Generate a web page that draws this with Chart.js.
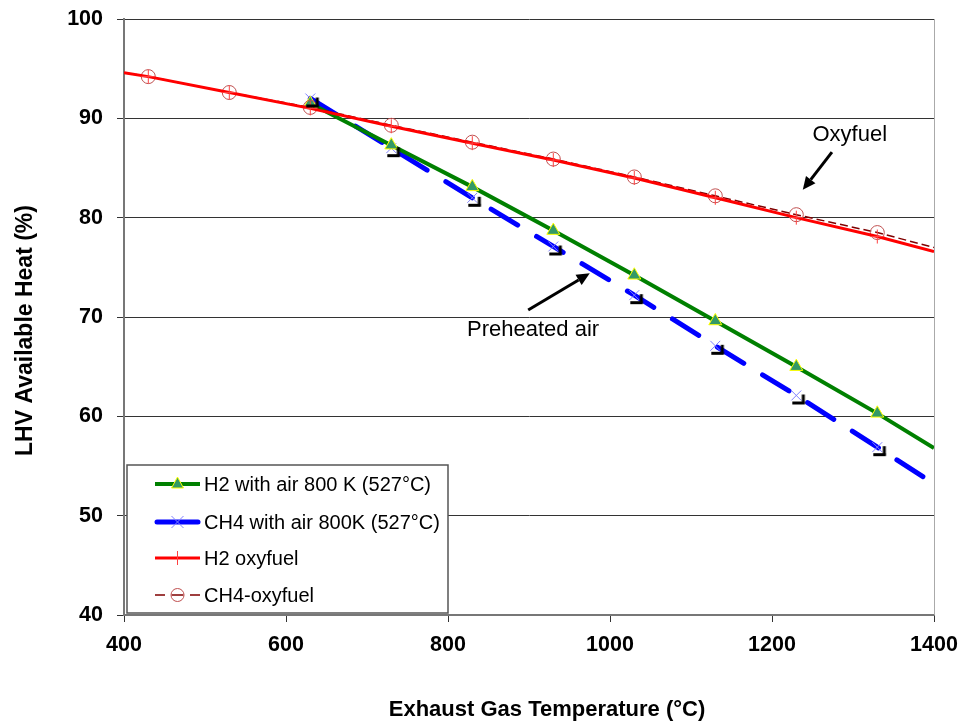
<!DOCTYPE html>
<html><head><meta charset="utf-8">
<script src="https://cdn.jsdelivr.net/npm/chart.js@4/dist/chart.umd.min.js"></script>
<style>html,body{margin:0;padding:0;background:#fff;} #wrap{width:963px;height:722px;position:relative;}</style>
</head><body><div id="wrap"><canvas id="c" width="963" height="722"></canvas></div>
<script>
// ---- data ----
const oxyTemps = [400, 430, 530, 630, 730, 830, 930, 1030, 1130, 1230, 1330, 1400];
const h2Oxy   = [94.6, 94.2, 92.6, 91.0, 89.2, 87.5, 85.8, 84.0, 82.0, 80.0, 78.1, 76.6];
const ch4Oxy  = [94.6, 94.2, 92.6, 91.1, 89.3, 87.6, 85.9, 84.1, 82.2, 80.3, 78.5, 77.0];
const airTemps = [630, 730, 830, 930, 1030, 1130, 1230, 1330, 1400];
const h2Air   = [91.5, 87.3, 83.1, 78.7, 74.2, 69.6, 65.0, 60.3, 56.8];
const ch4Air  = [92.0, 87.0, 82.0, 77.1, 72.2, 67.1, 62.1, 56.9, 53.2];
const seriesNames = ['H2 with air 800 K (527°C)', 'CH4 with air 800K (527°C)', 'H2 oxyfuel', 'CH4-oxyfuel'];
const xTickValues = [400, 600, 800, 1000, 1200, 1400];
const yTickValues = [40, 50, 60, 70, 80, 90, 100];
const xTitle = 'Exhaust Gas Temperature (°C)';
const yTitle = 'LHV Available Heat (%)';
const annotations = [
  {text: 'Oxyfuel', x: 1296, y: 88.3, from: [1274, 86.6], to: [1238, 82.8]},
  {text: 'Preheated air', x: 905, y: 68.7, from: [899, 70.7], to: [975, 74.4]}
];

const FONT = "'Liberation Sans', Arial, sans-serif";
const pts = (xs, ys) => xs.map((x, i) => ({x: x, y: ys[i]}));
const endHidden = r => (ctx => (ctx.raw && (ctx.raw.x === 400 || ctx.raw.x === 1400)) ? 0 : r);

// odd black marker seen next to CH4-air points
const blk = document.createElement('canvas');
blk.width = 28; blk.height = 28;
(function(){
  const g = blk.getContext('2d');
  g.strokeStyle = '#000'; g.lineWidth = 3; g.lineCap = 'butt';
  g.beginPath(); g.moveTo(21, 13); g.lineTo(21, 22.5); g.stroke();
  g.beginPath(); g.moveTo(10, 21.5); g.lineTo(22.5, 21.5); g.stroke();
})();

const legendPlugin = {
  id: 'boxLegend',
  afterDraw(chart) {
    const c = chart.ctx;
    c.save();
    const bx = 127, by = 465, bw = 321, bh = 148;
    c.fillStyle = '#fff'; c.fillRect(bx, by, bw, bh);
    c.strokeStyle = '#555'; c.lineWidth = 1.5; c.strokeRect(bx, by, bw, bh);
    const rows = [484, 522, 558, 595];
    const x0 = 155, x1 = 200, xm = 177.5;
    c.font = '20px ' + FONT; c.fillStyle = '#000'; c.textBaseline = 'middle'; c.textAlign = 'left';
    // green
    c.strokeStyle = '#008000'; c.lineWidth = 4; c.beginPath(); c.moveTo(x0, rows[0]); c.lineTo(x1, rows[0]); c.stroke();
    c.fillStyle = '#339966'; c.strokeStyle = '#ffff00'; c.lineWidth = 1;
    c.beginPath(); c.moveTo(xm, rows[0]-7); c.lineTo(xm+6, rows[0]+4); c.lineTo(xm-6, rows[0]+4); c.closePath(); c.fill(); c.stroke();
    // blue
    c.strokeStyle = '#0000ff'; c.lineWidth = 5; c.lineCap='round'; c.beginPath(); c.moveTo(x0+2, rows[1]); c.lineTo(x1-2, rows[1]); c.stroke();
    c.lineCap='butt';
    c.strokeStyle = '#8080ff'; c.lineWidth = 1; c.beginPath();
    c.moveTo(xm-6, rows[1]-6); c.lineTo(xm+6, rows[1]+6); c.moveTo(xm+6, rows[1]-6); c.lineTo(xm-6, rows[1]+6); c.stroke();
    // red
    c.strokeStyle = '#ff0000'; c.lineWidth = 3; c.beginPath(); c.moveTo(x0, rows[2]); c.lineTo(x1, rows[2]); c.stroke();
    c.strokeStyle = '#ff4040'; c.lineWidth = 1; c.beginPath(); c.moveTo(xm, rows[2]-7); c.lineTo(xm, rows[2]+7); c.stroke();
    // CH4 oxy dashed
    c.strokeStyle = '#800000'; c.lineWidth = 1.5; c.beginPath();
    c.moveTo(x0, rows[3]); c.lineTo(x0+10, rows[3]); c.moveTo(x1-10, rows[3]); c.lineTo(x1, rows[3]); c.moveTo(xm-6, rows[3]); c.lineTo(xm+6, rows[3]); c.stroke();
    c.strokeStyle = '#c05050'; c.lineWidth = 1; c.beginPath(); c.arc(xm, rows[3], 6.5, 0, Math.PI*2); c.stroke();
    c.fillStyle = '#000';
    seriesNames.forEach((n, i) => c.fillText(n, 204, rows[i] + 1));
    c.restore();
  }
};

const annotPlugin = {
  id: 'annot',
  afterDatasetsDraw(chart) {
    const c = chart.ctx, xs = chart.scales.x, ys = chart.scales.y;
    c.save();
    // right plot edge
    c.strokeStyle = '#aaa'; c.lineWidth = 1;
    c.beginPath(); c.moveTo(chart.chartArea.right + 0.5, chart.chartArea.top); c.lineTo(chart.chartArea.right + 0.5, chart.chartArea.bottom); c.stroke();
    c.font = '22px ' + FONT; c.fillStyle = '#000'; c.textAlign = 'center'; c.textBaseline = 'middle';
    annotations.forEach(a => {
      c.fillText(a.text, xs.getPixelForValue(a.x), ys.getPixelForValue(a.y));
      const fx = xs.getPixelForValue(a.from[0]), fy = ys.getPixelForValue(a.from[1]);
      const tx = xs.getPixelForValue(a.to[0]), ty = ys.getPixelForValue(a.to[1]);
      const ang = Math.atan2(ty - fy, tx - fx), L = 13, W = 6;
      const bxp = tx - L*Math.cos(ang), byp = ty - L*Math.sin(ang);
      c.strokeStyle = '#000'; c.lineWidth = 3;
      c.beginPath(); c.moveTo(fx, fy); c.lineTo(bxp, byp); c.stroke();
      c.beginPath(); c.moveTo(tx, ty);
      c.lineTo(bxp + W*Math.sin(ang), byp - W*Math.cos(ang));
      c.lineTo(bxp - W*Math.sin(ang), byp + W*Math.cos(ang));
      c.closePath(); c.fill();
    });
    // axis titles
    c.fillStyle = '#000'; c.textAlign = 'center'; c.textBaseline = 'alphabetic';
    c.font = 'bold 22px ' + FONT;
    c.fillText(xTitle, 547, 716);
    c.font = 'bold 23px ' + FONT;
    c.translate(32, 330.5); c.rotate(-Math.PI / 2);
    c.fillText(yTitle, 0, 0);
    c.restore();
  }
};

new Chart(document.getElementById('c'), {
  type: 'line',
  data: {
    datasets: [
      {label: 'marks', data: pts(airTemps.slice(0, -1), ch4Air.slice(0, -1)), showLine: false,
       pointStyle: blk, pointRadius: 14, order: -1},
      {label: seriesNames[2], data: pts(oxyTemps, h2Oxy), borderColor: '#ff0000', borderWidth: 3,
       pointStyle: 'cross', pointRadius: endHidden(7), pointBorderColor: '#ff4040', pointBorderWidth: 1,
       pointBackgroundColor: 'rgba(0,0,0,0)', order: 0, tension: 0},
      {label: seriesNames[3], data: pts(oxyTemps, ch4Oxy), borderColor: '#800000', borderWidth: 1.5, borderDash: [8, 4],
       pointStyle: 'circle', pointRadius: endHidden(7), pointBorderColor: '#c05050', pointBorderWidth: 1,
       pointBackgroundColor: 'rgba(0,0,0,0)', order: 1, tension: 0},
      {label: seriesNames[0], data: pts(airTemps, h2Air), borderColor: '#008000', borderWidth: 4,
       pointStyle: 'triangle', pointRadius: endHidden(7.5), pointBorderColor: '#ffff00', pointBorderWidth: 1,
       pointBackgroundColor: '#339966', order: 2, tension: 0},
      {label: seriesNames[1], data: pts(airTemps, ch4Air), borderColor: '#0000ff', borderWidth: 5, borderDash: [31, 22],
       borderCapStyle: 'round', pointStyle: 'crossRot', pointRadius: endHidden(7), pointBorderColor: '#8080ff',
       pointBorderWidth: 1, pointBackgroundColor: 'rgba(0,0,0,0)', order: 3, tension: 0}
    ]
  },
  options: {
    responsive: false, animation: false, devicePixelRatio: 1,
    layout: {padding: {left: 0, right: 29, top: 19, bottom: 0}},
    plugins: {legend: {display: false}, tooltip: {enabled: false}},
    scales: {
      x: {
        type: 'linear', min: 400, max: 1400,
        afterBuildTicks: s => { s.ticks = xTickValues.map(v => ({value: v})); },
        grid: {drawOnChartArea: false, drawTicks: true, tickLength: 7, color: '#333'},
        border: {color: '#777', width: 2},
        ticks: {font: {family: FONT, size: 21.5, weight: 'bold'}, color: '#000', padding: 10, maxRotation: 0,
                callback: v => String(v)},
        title: {display: false},
        afterFit: s => { s.height = 107; s.paddingLeft = 0; s.paddingRight = 0; }
      },
      y: {
        type: 'linear', min: 40, max: 100,
        afterBuildTicks: s => { s.ticks = yTickValues.map(v => ({value: v})); },
        grid: {drawTicks: true, tickLength: 7, color: '#333', lineWidth: 1},
        border: {color: '#777', width: 2},
        ticks: {font: {family: FONT, size: 21.5, weight: 'bold'}, color: '#000', padding: 14,
                callback: v => String(v)},
        title: {display: false},
        afterFit: s => { s.width = 124; s.paddingTop = 0; s.paddingBottom = 0; }
      }
    }
  },
  plugins: [annotPlugin, legendPlugin]
});
</script></body></html>
